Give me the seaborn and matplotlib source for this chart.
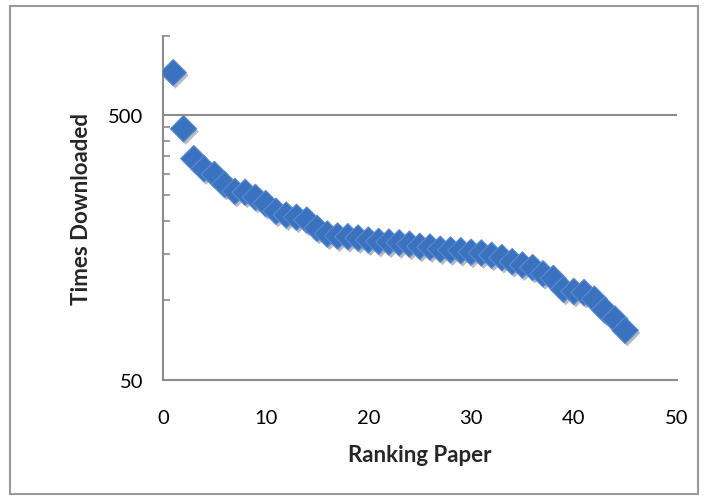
import numpy as np
import matplotlib
matplotlib.use('Agg')
import matplotlib.pyplot as plt
import matplotlib.patheffects as pe
from matplotlib.ticker import FixedLocator, FixedFormatter, NullFormatter
from matplotlib.patches import Rectangle
import seaborn as sns

# ranking of each paper and how many times it was downloaded
ranking = list(range(1, 46))
downloads = [725, 445, 343, 314, 299, 274, 258, 256, 245, 232,
             217, 210, 206, 201, 187, 178, 175, 174, 172, 169,
             167, 166, 165, 163, 160, 159, 156, 155, 154, 152,
             151, 148, 145, 140, 136, 133, 126, 121, 110, 108,
             107, 101, 92, 85, 77]

y_major = [50, 500]
y_minor = [100, 150, 200, 250, 300, 350, 400, 450, 1000]
x_ticks = [0, 10, 20, 30, 40, 50]

sns.set_style('white')
plt.rcParams['font.family'] = ['Lato', 'DejaVu Sans']

cinza = '#8c8c8c'
azul = '#3a72c0'

fig = plt.figure(figsize=(7.07, 5.02), dpi=100)
ax = fig.add_axes([163 / 707, 1 - 381 / 502, 513.5 / 707, 344.3 / 502])

sns.scatterplot(x=ranking, y=downloads, marker='D', s=180, color=azul,
                edgecolor='#5b8ad0', linewidth=0.8, ax=ax, zorder=3,
                path_effects=[pe.SimplePatchShadow(offset=(1.5, -2), alpha=0.3),
                              pe.Normal()])

ax.set_yscale('log')
ax.set_ylim(50, 1000)
ax.set_xlim(0, 50)

ax.yaxis.set_major_locator(FixedLocator(y_major))
ax.yaxis.set_major_formatter(FixedFormatter([str(v) for v in y_major]))
ax.yaxis.set_minor_locator(FixedLocator(y_minor))
ax.yaxis.set_minor_formatter(NullFormatter())
ax.set_xticks(x_ticks)
ax.set_xticklabels([str(v) for v in x_ticks])

ax.grid(False)
ax.axhline(500, color=cinza, linewidth=1.5, zorder=1)

ax.tick_params(axis='y', which='major', left=True, length=0, pad=14, labelsize=14.5, labelcolor='black')
ax.tick_params(axis='y', which='minor', left=True, direction='in', length=5, width=1.2, color=cinza)
ax.tick_params(axis='x', which='both', length=0, pad=21, labelsize=14.5, labelcolor='black')

for lado in ['top', 'right']:
    ax.spines[lado].set_visible(False)
for lado in ['left', 'bottom']:
    ax.spines[lado].set_color(cinza)
    ax.spines[lado].set_linewidth(1.5)

ax.set_xlabel('Ranking Paper', fontsize=16, fontweight='bold', labelpad=13)
ax.set_ylabel('Times Downloaded', fontsize=16, fontweight='bold', labelpad=12)

# moldura em volta do grafico
fig.patches.append(Rectangle((10 / 707, 1 - 495 / 502), 688 / 707, 488 / 502,
                             transform=fig.transFigure, fill=False,
                             edgecolor='#999999', linewidth=1.5))

fig.savefig('out.png', dpi=100)
